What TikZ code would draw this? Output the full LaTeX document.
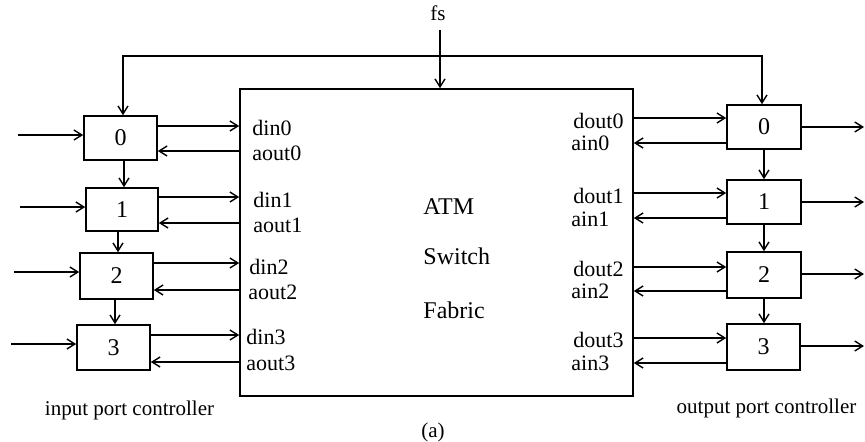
\documentclass[tikz,border=0pt]{standalone}
\usepackage{fontspec}
\setmainfont{Liberation Serif}
\usetikzlibrary{arrows.meta}
\begin{document}
\begin{tikzpicture}[x=0.5pt,y=-0.5pt,
  arr/.style={-{Straight Barb[length=4pt,width=5pt]}, line width=0.7pt},
  pbox/.style={draw, line width=0.8pt, minimum width=36.5pt, inner sep=0pt, font=\fontsize{12}{14}\selectfont},
  lab/.style={anchor=west, inner sep=0pt, font=\fontsize{11}{13}\selectfont},
  ctext/.style={anchor=west, inner sep=0pt, font=\fontsize{12}{14}\selectfont},
  captext/.style={inner sep=0pt, font=\fontsize{10.5}{12}\selectfont}]
\useasboundingbox (0,0) rectangle (865,441);

% main switch fabric
\node[draw, line width=0.8pt, minimum width=196.5pt, minimum height=153.5pt, inner sep=0pt] (sw) at (436.5,242.5) {};
\node[ctext] (atm) at (423,207) {ATM};
\node[ctext] (swt) at (423,256) {Switch};
\node[ctext] (fab) at (423,310) {Fabric};

% fs
\node[captext] (fs) at (438,13) {fs};
\coordinate (fstop) at (440,30);
\draw[arr] (fstop) -- (fstop |- sw.north);
\coordinate (bus) at (440,56);

% input port controllers
\node[pbox, minimum height=22pt] (i0) at (120.5,138) {0};
\node[pbox, minimum width=36pt, minimum height=21.5pt] (i1) at (122,209.5) {1};
\node[pbox, minimum height=23pt] (i2) at (116.5,276) {2};
\node[pbox, minimum height=22.5pt] (i3) at (113.5,347.5) {3};

% output port controllers
\node[pbox, minimum width=37pt, minimum height=22pt] (o0) at (764,127) {0};
\node[pbox, minimum width=37pt, minimum height=22pt] (o1) at (764,202) {1};
\node[pbox, minimum width=37pt, minimum height=23pt] (o2) at (764,275) {2};
\node[pbox, minimum width=36.5pt, minimum height=23pt] (o3) at (763.5,347) {3};

% bus from fs to port controllers
\draw[arr] (bus) -| ([xshift=1.25pt]i0.north);
\draw[arr] (bus) -| ([xshift=-1pt]o0.north);

% input arrows
\coordinate (s0) at (18,135);
\coordinate (s1) at (20,207);
\coordinate (s2) at (14,272);
\coordinate (s3) at (11,344);
\draw[arr] (s0) -- (s0 -| i0.west);
\draw[arr] (s1) -- (s1 -| i1.west);
\draw[arr] (s2) -- (s2 -| i2.west);
\draw[arr] (s3) -- (s3 -| i3.west);

% din / aout levels
\coordinate (d0) at (0,126); \coordinate (a0) at (0,151);
\coordinate (d1) at (0,197); \coordinate (a1) at (0,223);
\coordinate (d2) at (0,263); \coordinate (a2) at (0,290);
\coordinate (d3) at (0,335); \coordinate (a3) at (0,362);
\draw[arr] (i0.east |- d0) -- (sw.west |- d0);
\draw[arr] (sw.west |- a0) -- (i0.east |- a0);
\draw[arr] (i1.east |- d1) -- (sw.west |- d1);
\draw[arr] (sw.west |- a1) -- (i1.east |- a1);
\draw[arr] (i2.east |- d2) -- (sw.west |- d2);
\draw[arr] (sw.west |- a2) -- (i2.east |- a2);
\draw[arr] (i3.east |- d3) -- (sw.west |- d3);
\draw[arr] (sw.west |- a3) -- (i3.east |- a3);

\node[lab] (ld0) at (252,128) {din0};
\node[lab] (la0) at (252,153) {aout0};
\node[lab] (ld1) at (253,200) {din1};
\node[lab] (la1) at (253,225) {aout1};
\node[lab] (ld2) at (249,267) {din2};
\node[lab] (la2) at (248,292) {aout2};
\node[lab] (ld3) at (246,337) {din3};
\node[lab] (la3) at (246,363) {aout3};

% input chain
\draw[arr] ([xshift=1.75pt]i0.south) -- ([xshift=1.75pt]i0.south |- i1.north);
\draw[arr] ([xshift=-2pt]i1.south) -- ([xshift=-2pt]i1.south |- i2.north);
\draw[arr] ([xshift=-0.75pt]i2.south) -- ([xshift=-0.75pt]i2.south |- i3.north);

% dout / ain levels
\coordinate (q0) at (0,118); \coordinate (b0) at (0,143);
\coordinate (q1) at (0,193); \coordinate (b1) at (0,218);
\coordinate (q2) at (0,267); \coordinate (b2) at (0,291);
\coordinate (q3) at (0,338); \coordinate (b3) at (0,363);
\draw[arr] (sw.east |- q0) -- (o0.west |- q0);
\draw[arr] (o0.west |- b0) -- (sw.east |- b0);
\draw[arr] (sw.east |- q1) -- (o1.west |- q1);
\draw[arr] (o1.west |- b1) -- (sw.east |- b1);
\draw[arr] (sw.east |- q2) -- (o2.west |- q2);
\draw[arr] (o2.west |- b2) -- (sw.east |- b2);
\draw[arr] (sw.east |- q3) -- (o3.west |- q3);
\draw[arr] (o3.west |- b3) -- (sw.east |- b3);

\node[lab] (lq0) at (573,121) {dout0};
\node[lab] (lb0) at (571,143) {ain0};
\node[lab] (lq1) at (573,196) {dout1};
\node[lab] (lb1) at (571,219) {ain1};
\node[lab] (lq2) at (573,269) {dout2};
\node[lab] (lb2) at (571,291) {ain2};
\node[lab] (lq3) at (573,340) {dout3};
\node[lab] (lb3) at (571,363) {ain3};

% output chain
\draw[arr] (o0.south) -- (o0.south |- o1.north);
\draw[arr] (o1.south) -- (o1.south |- o2.north);
\draw[arr] (o2.south) -- (o2.south |- o3.north);

% output arrows
\coordinate (e0) at (864,127);
\coordinate (e1) at (864,202);
\coordinate (e2) at (864,274);
\coordinate (e3) at (864,346);
\draw[arr] (o0.east |- e0) -- (e0);
\draw[arr] (o1.east |- e1) -- (e1);
\draw[arr] (o2.east |- e2) -- (e2);
\draw[arr] (o3.east |- e3) -- (e3);

% captions
\node[captext] (ipc) at (129.5,410) {input port controller};
\node[captext] (opc) at (766.5,408) {output port controller};
\node[captext] (cap) at (433,432) {(a)};
\end{tikzpicture}
\end{document}
